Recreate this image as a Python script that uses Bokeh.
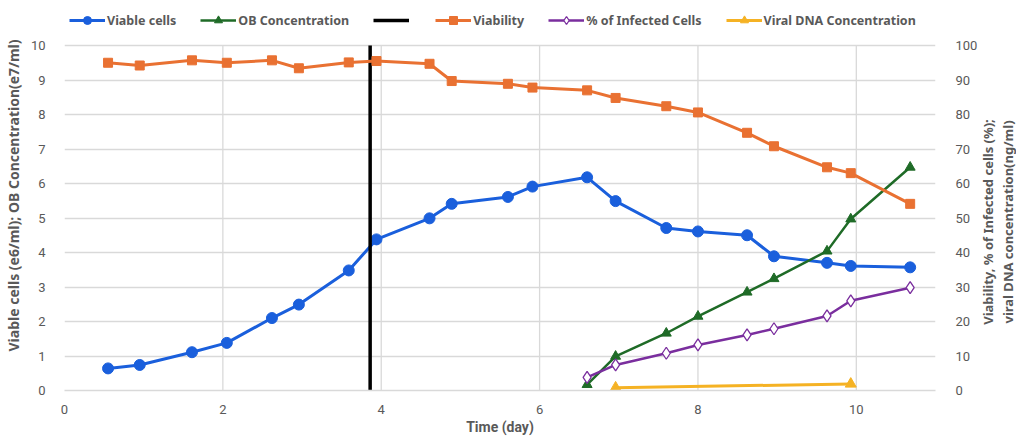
from bokeh.plotting import figure
from bokeh.layouts import row
from bokeh.models import Range1d, LinearAxis, Legend, LegendItem, FixedTicker, Div
from bokeh.embed import file_html
from bokeh.resources import INLINE

# ---- data ----
days = [0.55, 0.95, 1.61, 2.05, 2.62, 2.96, 3.59, 3.94, 4.61, 4.89, 5.60,
        5.91, 6.60, 6.96, 7.60, 8.00, 8.62, 8.96, 9.63, 9.93, 10.68]
viable_cells = [0.64, 0.74, 1.11, 1.38, 2.10, 2.49, 3.48, 4.38, 4.99, 5.41, 5.61,
                5.91, 6.18, 5.49, 4.71, 4.61, 4.50, 3.89, 3.70, 3.61, 3.57]
viability = [95.0, 94.2, 95.7, 95.0, 95.7, 93.4, 95.1, 95.5, 94.7, 89.7, 88.9,
             87.8, 87.0, 84.8, 82.4, 80.6, 74.7, 70.8, 64.7, 63.0, 54.1]
late_days = [6.60, 6.96, 7.60, 8.00, 8.62, 8.96, 9.63, 9.93, 10.68]
ob_conc = [0.17, 0.99, 1.66, 2.15, 2.85, 3.24, 4.04, 4.97, 6.47]
infected = [3.8, 7.4, 10.8, 13.2, 16.1, 17.9, 21.6, 26.0, 29.8]
dna_days = [6.96, 9.93]
dna_conc = [0.8, 1.9]
marker_day = [3.86, 3.86]
marker_y = [0, 10]

x_ticks = [0, 2, 4, 6, 8, 10]
left_ticks = list(range(0, 11))
right_ticks = list(range(0, 101, 10))
right_title = ["Viability, % of Infected cells (%);", "viral DNA concentration(ng/ml)"]

BLUE = "#1a5fdc"
ORANGE = "#e97132"
GREEN = "#1f6b27"
PURPLE = "#7a2e9e"
YELLOW = "#f5b224"
BLACK = "#000000"
GREY = "#595959"
GRID = "#d9d9d9"
TICK_FONT = "Roboto"
TITLE_FONT = "Noto Sans"

# layout: the frame runs up to the top so that the legend can sit inside it;
# ranges are stretched so that 10 / 100 land on the chart's top line
FRAME_H = 390
PLOT_H = 345
top_left = max(left_ticks) * FRAME_H / PLOT_H
top_right = max(right_ticks) * FRAME_H / PLOT_H

p = figure(width=980, height=437, output_backend="svg", toolbar_location=None,
           x_range=Range1d(0, 11), y_range=Range1d(0, top_left),
           min_border_left=63, min_border_right=45, min_border_top=0,
           min_border_bottom=47)
p.outline_line_color = None
p.extra_y_ranges = {"pct": Range1d(0, top_right)}

p.xaxis.ticker = FixedTicker(ticks=x_ticks)
p.yaxis.ticker = FixedTicker(ticks=left_ticks)
p.ygrid.ticker = FixedTicker(ticks=left_ticks)
p.ygrid.grid_line_color = GRID
p.ygrid.grid_line_width = 1.3
p.xgrid.grid_line_color = None

# vertical grid lines over the value span of the left axis
vx = x_ticks[1:]
p.segment(x0=vx, y0=[min(left_ticks)] * len(vx), x1=vx, y1=[max(left_ticks)] * len(vx),
          line_color=GRID, line_width=1.3)

right = LinearAxis(y_range_name="pct", ticker=FixedTicker(ticks=right_ticks))
p.add_layout(right, "right")

for ax in [p.xaxis[0], p.yaxis[0], right]:
    ax.major_tick_line_color = None
    ax.minor_tick_line_color = None
    ax.major_label_text_color = GREY
    ax.major_label_text_font = TICK_FONT
    ax.major_label_text_font_size = "13px"
    ax.axis_label_text_color = GREY
    ax.axis_label_text_font_style = "bold"
    ax.axis_label_text_font_size = "14px"
    ax.axis_label_text_font = TITLE_FONT
p.yaxis[0].axis_line_color = None
right.axis_line_color = None
p.xaxis[0].axis_line_color = GRID
p.xaxis[0].axis_line_width = 1.3
p.xaxis[0].axis_label_text_font = TICK_FONT
p.xaxis[0].axis_label = "Time (day)"
p.xaxis[0].axis_label_standoff = 2
p.xaxis[0].major_label_standoff = 8
p.yaxis[0].axis_label = "Viable cells (e6/ml); OB Concentration(e7/ml)"
p.yaxis[0].axis_label_standoff = 5
p.yaxis[0].major_label_standoff = 13
right.major_label_standoff = 14

# series
l_vc = p.line(days, viable_cells, color=BLUE, line_width=3)
m_vc = p.scatter(days, viable_cells, marker="circle", size=11, color=BLUE)

l_ob = p.line(late_days, ob_conc, color=GREEN, line_width=2.5)
m_ob = p.scatter(late_days, ob_conc, marker="triangle", size=10, color=GREEN)

l_bk = p.line(marker_day, marker_y, color=BLACK, line_width=3.5)

l_via = p.line(days, viability, color=ORANGE, line_width=3, y_range_name="pct")
m_via = p.scatter(days, viability, marker="square", size=9, color=ORANGE,
                  y_range_name="pct")

l_inf = p.line(late_days, infected, color=PURPLE, line_width=2.5, y_range_name="pct")
m_inf = p.scatter(late_days, infected, marker="diamond", size=12, line_color=PURPLE,
                  fill_color="white", line_width=1.3, y_range_name="pct")

l_dna = p.line(dna_days, dna_conc, color=YELLOW, line_width=3, y_range_name="pct")
m_dna = p.scatter(dna_days, dna_conc, marker="triangle", size=11, color=YELLOW,
                  y_range_name="pct")

legend = Legend(items=[
    LegendItem(label="Viable cells", renderers=[l_vc, m_vc]),
    LegendItem(label="OB Concentration", renderers=[l_ob, m_ob]),
    LegendItem(label=" ", renderers=[l_bk]),
    LegendItem(label="Viability", renderers=[l_via, m_via]),
    LegendItem(label="% of Infected Cells", renderers=[l_inf, m_inf]),
    LegendItem(label="Viral DNA Concentration", renderers=[l_dna, m_dna]),
], orientation="horizontal", location=(5, 360))
legend.label_text_font = TITLE_FONT
legend.label_text_font_style = "bold"
legend.label_text_font_size = "12.5px"
legend.label_text_color = GREY
legend.glyph_width = 36
legend.label_width = 0
legend.label_standoff = 2
legend.spacing = 24
legend.border_line_color = None
legend.background_fill_alpha = 0
legend.padding = 4
legend.margin = 0
p.add_layout(legend, "center")

# right-hand axis title (reads bottom-to-top, two lines)
title_html = (
    '<div style="position:absolute; left:13px; top:217px; '
    'transform: translate(-50%, -50%) rotate(-90deg); white-space: nowrap; '
    f"text-align: center; font-family: '{TITLE_FONT}'; font-weight: bold; "
    f'font-size: 13px; line-height: 20px; color: {GREY};">'
    + "<br>".join(right_title) + "</div>"
)
side = Div(text=title_html, width=36, height=437,
           styles={"position": "relative", "overflow": "visible"})

layout = row(p, side, spacing=0)
open("out.html", "w").write(file_html(layout, INLINE))
